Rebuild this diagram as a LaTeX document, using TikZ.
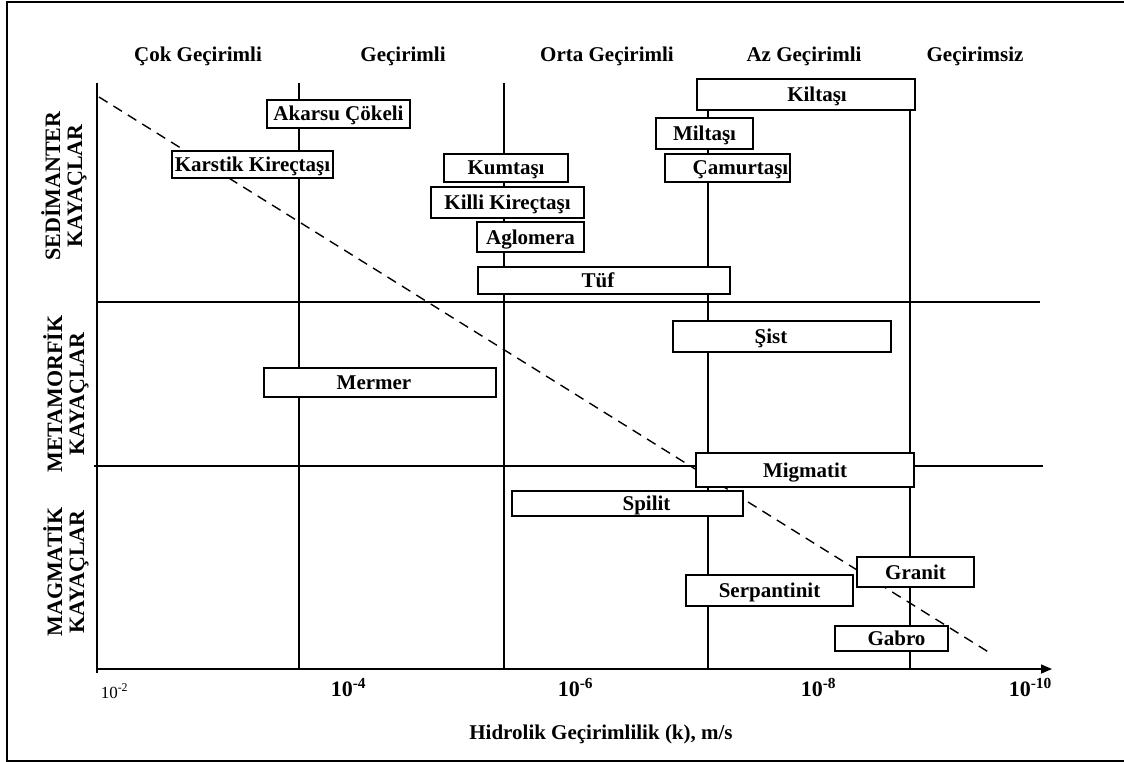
\documentclass[tikz,border=0pt]{standalone}
\usepackage{fontspec}
\setmainfont{Liberation Serif}
\usetikzlibrary{arrows.meta}

\begin{document}
\begin{tikzpicture}[x=1pt,y=-1pt,line width=1.5pt,
    every node/.style={inner sep=0pt,font=\fontsize{21}{22}\selectfont\bfseries},
    rock/.style={draw,fill=white,line width=1.5pt,text height=15pt,text depth=1pt},
    group/.style={rotate=90,align=center,font=\fontsize{22}{22}\selectfont\bfseries},
    >={Triangle[width=9pt,length=11pt]}]
  \useasboundingbox(0,0)rectangle(1124,762);
  \draw[line width=1.6pt](1124,2)--(7,2)--(7,761)--(1124,761);
  % axes and grid
  \coordinate(ytop) at (97,83);
  \coordinate(orig) at (97,669);
  \coordinate(xend) at (1052,669);
  \draw[->](ytop)--(orig)--(xend);
  \draw(97,669)--(97,673);
  \foreach \x in {299,504,708,910}
    \draw(\x,83)--(\x,669);
  \draw(97,302)--(1040,302);
  \draw(94,466)--(1043,466);
  \draw[dash pattern=on 10pt off 7pt,line width=1.4pt](99,97)--(990,653);
  % permeability classes
  \node[anchor=base](cok) at (198,62){Çok Geçirimli};
  \node[anchor=base](gec) at (403,62){Geçirimli};
  \node[anchor=base](orta) at (607,62){Orta Geçirimli};
  \node[anchor=base](az) at (804,62){Az Geçirimli};
  \node[anchor=base](gecsiz) at (975,62){Geçirimsiz};
  % rock groups
  \node[group](sed) at (64,186){SEDİMANTER\\KAYAÇLAR};
  \node[group](met) at (66,394){METAMORFİK\\KAYAÇLAR};
  \node[group](mag) at (66,572){MAGMATİK\\KAYAÇLAR};
  % sedimentary
  \node[rock,minimum width=218pt,minimum height=31pt](kiltasi) at (806,94.5){\hspace*{22pt}Kiltaşı};
  \node[rock,minimum width=143pt,minimum height=28pt](akarsu) at (338.5,114){Akarsu Çökeli};
  \node[rock,minimum width=161pt,minimum height=27pt](karstik) at (252.5,164.5){Karstik Kireçtaşı};
  \node[rock,minimum width=97pt,minimum height=31pt](miltasi) at (704.5,133.5){Miltaşı};
  \node[rock,minimum width=125pt,minimum height=28pt](camur) at (727.5,168){\hspace*{26pt}Çamurtaşı};
  \node[rock,minimum width=124pt,minimum height=28pt](kumtasi) at (506,168){Kumtaşı};
  \node[rock,minimum width=153pt,minimum height=31pt](killi) at (507.5,202.5){Killi Kireçtaşı};
  \node[rock,minimum width=107pt,minimum height=30pt](aglomera) at (530.5,237){Aglomera};
  \node[rock,minimum width=252pt,minimum height=27pt](tuf) at (604,280.5){Tüf\hspace*{12pt}};
  % metamorphic
  \node[rock,minimum width=218pt,minimum height=31pt](sist) at (782,336.5){Şist\hspace*{22pt}};
  \node[rock,minimum width=232pt,minimum height=29pt](mermer) at (380,382.5){Mermer\hspace*{12pt}};
  % magmatic
  \node[rock,minimum width=218pt,minimum height=34pt](migmatit) at (805,470){Migmatit};
  \node[rock,minimum width=231pt,minimum height=25pt](spilit) at (627.5,503.5){\hspace*{38pt}Spilit};
  \node[rock,minimum width=167pt,minimum height=31pt](serpantinit) at (769.5,590.5){Serpantinit};
  \node[rock,minimum width=117pt,minimum height=30pt](granit) at (915.5,572){Granit};
  \node[rock,minimum width=113pt,minimum height=25pt](gabro) at (891.5,638.5){\hspace*{10pt}Gabro};
  % axis values
  \node[anchor=base west,font=\fontsize{17}{18}\selectfont](k2) at (100,698){10\textsuperscript{-2}};
  \node[anchor=base west,font=\fontsize{22}{22}\selectfont\bfseries](k4) at (330,696){10\textsuperscript{-4}};
  \node[anchor=base west,font=\fontsize{22}{22}\selectfont\bfseries](k6) at (557,696){10\textsuperscript{-6}};
  \node[anchor=base west,font=\fontsize{22}{22}\selectfont\bfseries](k8) at (800,696){10\textsuperscript{-8}};
  \node[anchor=base west,font=\fontsize{22}{22}\selectfont\bfseries](k10) at (1008,696){10\textsuperscript{-10}};
  \node[anchor=base](xtitle) at (601,739){Hidrolik Geçirimlilik (k), m/s};
\end{tikzpicture}
\end{document}
